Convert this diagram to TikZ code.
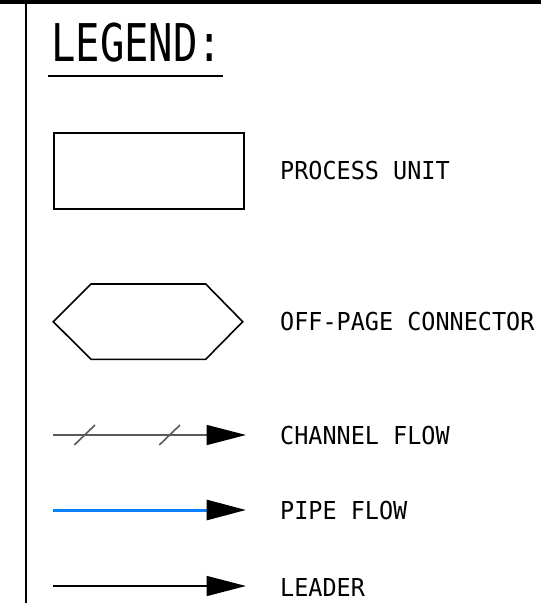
\documentclass[tikz,border=0pt]{standalone}
\usepackage{fontspec}
\usetikzlibrary{arrows.meta}
\newfontfamily\cadfont{DejaVu Sans Mono}[FakeStretch=0.95]
\newfontfamily\cadtitle{DejaVu Sans Mono}[FakeStretch=0.78]
\definecolor{pipeblue}{RGB}{10,128,255}
\definecolor{chgray}{RGB}{90,90,90}
\tikzset{
  lbl/.style={anchor=west, inner sep=0pt, font=\cadfont\fontsize{24.7}{26}\selectfont},
  headtip/.style={-{Triangle[length=39.5pt,width=20pt,color=black]}},
  thinline/.style={line width=1.6pt},
}
\begin{document}
\begin{tikzpicture}[x=1pt,y=-1pt]
\useasboundingbox (0,0) rectangle (541,603);
% frame
\fill[black] (0,0) rectangle (541,4);
\draw[line width=2.4pt] (26,0) -- (26,603);
% title
\node[anchor=west, inner sep=0pt, font=\cadtitle\fontsize{52}{54}\selectfont] (title) at (51,42.2) {LEGEND:};
\coordinate (ul1) at (48,76);
\coordinate (ul2) at (222.5,76);
\draw[line width=2pt] (ul1) -- (ul2);
% process unit
\node[draw, thinline, minimum width=190pt, minimum height=76pt, anchor=north west, inner sep=0pt] (pu) at (53,132) {};
\node[lbl] (tpu) at (280,171) {PROCESS UNIT};
% off-page connector
\coordinate (h1) at (53.3,321.7);
\coordinate (h2) at (91,284);
\coordinate (h3) at (205.7,284);
\coordinate (h4) at (242.7,321.7);
\coordinate (h5) at (205.7,359.3);
\coordinate (h6) at (91,359.3);
\draw[thinline, line join=miter] (h1) -- (h2) -- (h3) -- (h4) -- (h5) -- (h6) -- cycle;
\node[lbl] (topc) at (280,322) {OFF-PAGE CONNECTOR};
% channel flow
\coordinate (c1) at (53.3,435);
\coordinate (c2) at (246,435);
\draw[thinline, chgray, headtip] (c1) -- (c2);
\coordinate (t1a) at (74.3,445); \coordinate (t1b) at (95,425);
\coordinate (t2a) at (159.3,445); \coordinate (t2b) at (180,425);
\draw[thinline, chgray] (t1a) -- (t1b);
\draw[thinline, chgray] (t2a) -- (t2b);
\node[lbl] (tcf) at (280,436) {CHANNEL FLOW};
% pipe flow
\coordinate (p1) at (53.3,510);
\coordinate (p2) at (246,510);
\draw[line width=3pt, pipeblue, headtip] (p1) -- (p2);
\node[lbl] (tpf) at (280,511) {PIPE FLOW};
% leader
\coordinate (l1) at (53.3,586);
\coordinate (l2) at (246,586);
\draw[thinline, black, headtip] (l1) -- (l2);
\node[lbl] (tld) at (280,587.3) {LEADER};
\end{tikzpicture}
\end{document}
